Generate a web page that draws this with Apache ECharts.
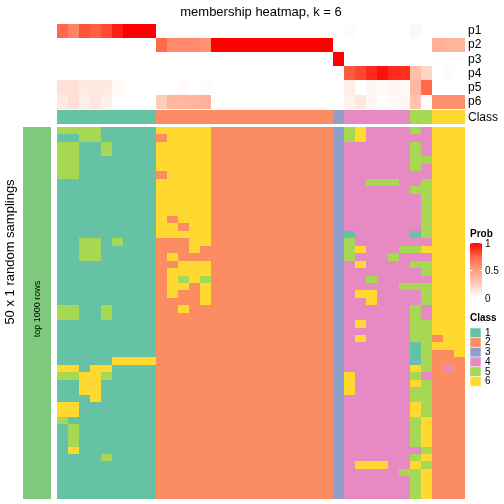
<!DOCTYPE html>
<html>
<head>
<meta charset="utf-8">
<script src="https://cdn.jsdelivr.net/npm/echarts@6/dist/echarts.min.js"></script>
<style>html,body{margin:0;padding:0;background:#fff}#c{width:504px;height:504px}</style>
</head>
<body>
<div id="c"></div>
<script>
// ---------- data ----------
const probNames = ['p1', 'p2', 'p3', 'p4', 'p5', 'p6'];
//           c0    c1    c2    c3    c4    c5    c6 c7 c8 | c9   c10  c11  c12  c13 | c14..c24 (11)        | c25| c26  c27  c28  c29  c30  c31 | c32  c33 | c34  c35  c36
const p1 = [0.74, 0.62, 0.80, 0.77, 0.82, 0.93, 1, 1, 1,   0,   0,   0,   0,   0,   0,0,0,0,0,0,0,0,0,0,0,  0,  0.02,0,   0,   0,   0,   0,   0.04,0,    0,   0,   0];
const p2 = [0, 0, 0, 0, 0, 0, 0, 0, 0,                     0.74,0.59,0.59,0.59,0.55, 1,1,1,1,1,1,1,1,1,1,1,  0,  0,   0,   0,   0,   0,   0,   0,   0,    0.41,0.39,0.39];
const p3 = [0, 0, 0, 0, 0, 0, 0, 0, 0,                     0,   0,   0,   0,   0,   0,0,0,0,0,0,0,0,0,0,0,  1,  0,   0,   0,   0,   0,   0,   0,   0,    0,   0,   0];
const p4 = [0, 0, 0, 0, 0, 0, 0, 0, 0,                     0,   0,   0,   0,   0,   0,0,0,0,0,0,0,0,0,0,0,  0,  0.78,0.83,0.90,0.96,0.90,0.89, 0.33,0.22, 0,   0.02,0];
const p5 = [0.16,0.16,0.11,0.11,0.11,0.03,0, 0, 0,         0,   0,   0.02,0,   0.02,0,0,0,0,0,0,0,0,0,0,0,  0,  0.09,0,   0.04,0.03,0.05,0.03, 0.37,0.74, 0,   0,   0];
const p6 = [0.11,0.17,0.09,0.13,0.08,0, 0, 0, 0,           0.26,0.38,0.37,0.39,0.40,0,0,0,0,0,0,0,0,0,0,0,  0,  0.07,0.12,0.04,0,   0.02,0.04, 0.31,0.01, 0.57,0.57,0.57];

const classRow = [1,1,1,1,1,1,1,1,1, 2,2,2,2,2,2,2,2,2,2,2,2,2,2,2,2, 3, 4,4,4,4,4,4, 5,5, 6,6,6];

// 50 random samplings x 37 samples, class per cell (groups separated by spaces for readability)
const samplingRows = [
  '555511111 66666 22222222222 3 564444 54 666',
  '115511111 26666 22222222222 3 564444 44 666',
  '551151111 66666 22222222222 3 444444 54 666',
  '551151111 66666 22222222222 3 444444 54 666',
  '551111111 66666 22222222222 3 444444 55 666',
  '551111111 66666 22222222222 3 444444 54 666',
  '551111111 26666 22222222222 3 444444 44 666',
  '111111111 66666 22222222222 3 445554 45 666',
  '111111111 66666 22222222222 3 444444 55 666',
  '111111111 66666 22222222222 3 444444 45 666',
  '111111111 66666 22222222222 3 444444 45 666',
  '111111111 66666 22222222222 3 444444 45 666',
  '111111111 62666 22222222222 3 444444 45 666',
  '111111111 66266 22222222222 3 444444 45 666',
  '111111111 66666 22222222222 3 144444 15 666',
  '115515111 22266 22222222222 3 544444 44 666',
  '115511111 22262 22222222222 3 564445 56 666',
  '115511111 26222 22222222222 3 544454 44 666',
  '111111111 22666 22222222222 3 464444 55 666',
  '111111111 26666 22222222222 3 444444 45 666',
  '111111111 26565 22222222222 3 445444 44 666',
  '111111111 26626 22222222222 3 444445 55 666',
  '111111111 26226 22222222222 3 466444 45 666',
  '111111111 22226 22222222222 3 446444 45 666',
  '551151111 22622 22222222222 3 444444 54 666',
  '551151111 22222 22222222222 3 444444 54 666',
  '111111111 22222 22222222222 3 464444 55 666',
  '111111111 22222 22222222222 3 444444 55 666',
  '111111111 22222 22222222222 3 464444 55 266',
  '111111111 22222 22222222222 3 444444 15 666',
  '111111111 22222 22222222222 3 444444 15 226',
  '111116666 22222 22222222222 3 444444 15 222',
  '661661111 22222 22222222222 3 444444 65 242',
  '556651111 22222 22222222222 3 644444 54 222',
  '116611111 22222 22222222222 3 644444 65 222',
  '116611111 22222 22222222222 3 644444 55 222',
  '111611111 22222 22222222222 3 444444 55 222',
  '661111111 22222 22222222222 3 444444 65 222',
  '661111111 22222 22222222222 3 444444 65 222',
  '511111111 22222 22222222222 3 444444 56 222',
  '151111111 22222 22222222222 3 444444 56 222',
  '151111111 22222 22222222222 3 444444 56 222',
  '151111111 22222 22222222222 3 444444 56 222',
  '161111111 22222 22222222222 3 444444 45 222',
  '111151111 22222 22222222222 3 444444 56 222',
  '111111111 22222 22222222222 3 466644 65 222',
  '111111111 22222 22222222222 3 444445 56 222',
  '111111111 22222 22222222222 3 444444 56 222',
  '111111111 22222 22222222222 3 444444 56 222',
  '111111111 22222 22222222222 3 444444 56 222'
];

const classLabels = ['1', '2', '3', '4', '5', '6'];
const classColors = ['#66C2A5', '#FC8D62', '#8DA0CB', '#E78AC3', '#A6D854', '#FFD92F'];
const probTickLabels = ['1', '0.5', '0'];
const samplingBarLabel = ['top 1000 rows'];
const titleText = 'membership heatmap, k = 6';
const rowAxisTitle = '50 x 1 random samplings';

// ---------- build ----------
const FONT = '"Liberation Sans", Arial, Helvetica, sans-serif';
const probStops = ['#FFFFFF', 'rgb(255,207,191)', 'rgb(255,158,129)', 'rgb(255,104,70)', '#FF0000'];
const columnIds = classRow.map((_, i) => 'S' + (i + 1));
const samplingIds = samplingRows.map((_, i) => 'r' + (i + 1));

const probRows = [p1, p2, p3, p4, p5, p6];
const probData = [];
probRows.forEach((row, r) => row.forEach((v, c) => probData.push([c, r, v])));
const classData = classRow.map((v, c) => [c, 0, v]);
const mainData = [];
samplingRows.forEach((s, r) => s.replace(/\s+/g, '').split('').forEach((ch, c) => mainData.push([c, r, Number(ch)])));
const barData = [[0, 0, 1]];

// cells snapped to whole pixels so neighbouring cells share edges (no seams)
function renderCell(params, api) {
  const p = api.coord([api.value(0), api.value(1)]);
  const s = api.size([1, 1]);
  const x0 = Math.round(p[0] - s[0] / 2), x1 = Math.round(p[0] + s[0] / 2);
  const y0 = Math.round(p[1] - s[1] / 2), y1 = Math.round(p[1] + s[1] / 2);
  return {type: 'rect', shape: {x: x0, y: y0, width: x1 - x0, height: y1 - y0},
          style: {fill: api.visual('color'), stroke: null}};
}

const L = 57, W = 408;
const labelAxis = {
  axisLine: {show: false}, axisTick: {show: false}, splitLine: {show: false},
  axisLabel: {show: true, interval: 0, margin: 3, fontSize: 12, color: '#000', fontFamily: FONT}
};

const chart = echarts.init(document.getElementById('c'), null, {renderer: 'canvas', width: 504, height: 504});

const graphics = [
  {type: 'text', z: 100, x: 261, y: 12, style: {text: titleText, font: '13px ' + FONT, fill: '#000', textAlign: 'center', textVerticalAlign: 'middle'}},
  {type: 'text', z: 100, x: 10, y: 252, rotation: Math.PI / 2, style: {text: rowAxisTitle, font: '13px ' + FONT, fill: '#000', textAlign: 'center', textVerticalAlign: 'middle'}},
  {type: 'text', z: 100, x: 38, y: 309, rotation: Math.PI / 2, style: {text: samplingBarLabel[0], font: '9px ' + FONT, fill: '#000', textAlign: 'center', textVerticalAlign: 'middle'}},
  // Prob legend
  {type: 'text', z: 100, x: 470, y: 234, style: {text: 'Prob', font: 'bold 10px ' + FONT, fill: '#000', textAlign: 'left', textVerticalAlign: 'middle'}},
  {type: 'rect', z: 100, shape: {x: 470, y: 243, width: 12, height: 55},
   style: {fill: new echarts.graphic.LinearGradient(0, 0, 0, 1, [
     {offset: 0, color: probStops[4]}, {offset: 0.25, color: probStops[3]},
     {offset: 0.5, color: probStops[2]}, {offset: 0.75, color: probStops[1]}, {offset: 1, color: probStops[0]}])}},
  // Class legend
  {type: 'text', z: 100, x: 470, y: 318, style: {text: 'Class', font: 'bold 10px ' + FONT, fill: '#000', textAlign: 'left', textVerticalAlign: 'middle'}}
];
probTickLabels.forEach((t, i) => {
  const y = 243 + i * 27.5;
  graphics.push({type: 'text', z: 100, x: 485, y: y + 1, style: {text: t, font: '10px ' + FONT, fill: '#000', textAlign: 'left', textVerticalAlign: 'middle'}});
  graphics.push({type: 'line', z: 101, shape: {x1: 470, y1: y, x2: 472.5, y2: y}, style: {stroke: '#fff', lineWidth: 1}});
  graphics.push({type: 'line', z: 101, shape: {x1: 479.5, y1: y, x2: 482, y2: y}, style: {stroke: '#fff', lineWidth: 1}});
});
classLabels.forEach((t, i) => {
  const y = 328 + i * 9.7;
  graphics.push({type: 'rect', z: 100, shape: {x: 470, y: y, width: 11, height: 9.7}, style: {fill: classColors[i], stroke: '#fff', lineWidth: 0.5}});
  graphics.push({type: 'text', z: 100, x: 485, y: y + 5, style: {text: t, font: '10px ' + FONT, fill: '#000', textAlign: 'left', textVerticalAlign: 'middle'}});
});

const option = {
  animation: false,
  backgroundColor: '#fff',
  grid: [
    {left: L, top: 24, width: W, height: 84.7, outerBoundsMode: 'none'},
    {left: L, top: 110.3, width: W, height: 13.8, outerBoundsMode: 'none'},
    {left: L, top: 126.7, width: W, height: 372, outerBoundsMode: 'none'},
    {left: 23, top: 126.7, width: 28, height: 372, outerBoundsMode: 'none'}
  ],
  xAxis: [
    {type: 'category', gridIndex: 0, data: columnIds, show: false},
    {type: 'category', gridIndex: 1, data: columnIds, show: false},
    {type: 'category', gridIndex: 2, data: columnIds, show: false},
    {type: 'category', gridIndex: 3, data: ['bar'], show: false}
  ],
  yAxis: [
    Object.assign({type: 'category', gridIndex: 0, data: probNames, inverse: true, position: 'right'}, labelAxis),
    Object.assign({type: 'category', gridIndex: 1, data: ['Class'], position: 'right'}, labelAxis),
    {type: 'category', gridIndex: 2, data: samplingIds, inverse: true, show: false},
    {type: 'category', gridIndex: 3, data: samplingBarLabel, show: false}
  ],
  visualMap: [
    {type: 'continuous', min: 0, max: 1, dimension: 2, seriesIndex: 0, show: false, inRange: {color: probStops}},
    {type: 'piecewise', dimension: 2, seriesIndex: [1, 2], show: false,
     pieces: classColors.map((c, i) => ({value: i + 1, color: c}))},
    {type: 'piecewise', dimension: 2, seriesIndex: 3, show: false, pieces: [{value: 1, color: '#7FC97F'}]}
  ],
  series: [
    {type: 'custom', xAxisIndex: 0, yAxisIndex: 0, data: probData, renderItem: renderCell, encode: {x: 0, y: 1}, silent: true},
    {type: 'custom', xAxisIndex: 1, yAxisIndex: 1, data: classData, renderItem: renderCell, encode: {x: 0, y: 1}, silent: true},
    {type: 'custom', xAxisIndex: 2, yAxisIndex: 2, data: mainData, renderItem: renderCell, encode: {x: 0, y: 1}, silent: true},
    {type: 'custom', xAxisIndex: 3, yAxisIndex: 3, data: barData, renderItem: renderCell, encode: {x: 0, y: 1}, silent: true}
  ],
  graphic: graphics
};
chart.setOption(option);
</script>
</body>
</html>
